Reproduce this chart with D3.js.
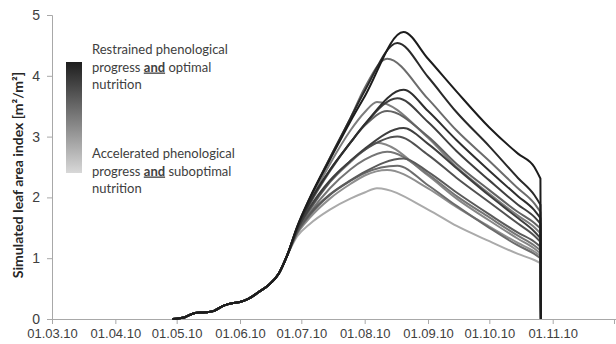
<!DOCTYPE html>
<html>
<head>
<meta charset="utf-8">
<script src="https://cdn.jsdelivr.net/npm/d3@7"></script>
<style>
  body { margin: 0; background: #fff; }
  svg { font-family: Lato, "Open Sans", sans-serif; }
  .tick text { fill: #404040; }
</style>
</head>
<body>
<svg id="chart" width="616" height="344"></svg>
<script>
// shared early-season leaf area (all runs overlap here)
const baseDates = ["2010-04-29","2010-05-05","2010-05-10","2010-05-15","2010-05-19","2010-05-24",
  "2010-05-28","2010-06-01","2010-06-05","2010-06-10","2010-06-15","2010-06-20","2010-06-24"];
const baseLai = [0, 0.03, 0.1, 0.11, 0.13, 0.22, 0.26, 0.28, 0.33, 0.44, 0.56, 0.75, 1.04];

const riseDates = ["2010-06-29","2010-07-05","2010-07-15","2010-07-25","2010-08-01"];
const fallDates = ["2010-09-01","2010-09-15","2010-10-01","2010-10-15","2010-10-23","2010-10-26"];
const harvestDate = "2010-10-26";

// one entry per simulation run
const peakDates = ["2010-08-20","2010-08-17","2010-08-12","2010-08-20","2010-08-17","2010-08-07","2010-08-12",
  "2010-08-20","2010-08-17","2010-08-07","2010-08-12","2010-08-20","2010-08-17","2010-08-12","2010-08-07"];
const peakLai = [4.72, 4.54, 4.28, 3.77, 3.63, 3.57, 3.42, 3.14, 3.0, 2.9, 2.75, 2.64, 2.52, 2.45, 2.15];
const riseLai = [
  [1.52, 1.98, 2.62, 3.25, 3.66],
  [1.52, 1.98, 2.65, 3.3, 3.75],
  [1.5, 1.96, 2.65, 3.3, 3.8],
  [1.5, 1.92, 2.45, 2.9, 3.2],
  [1.49, 1.9, 2.45, 2.9, 3.2],
  [1.5, 1.92, 2.55, 3.1, 3.4],
  [1.48, 1.88, 2.43, 2.9, 3.18],
  [1.47, 1.83, 2.28, 2.6, 2.8],
  [1.46, 1.8, 2.26, 2.6, 2.78],
  [1.45, 1.78, 2.25, 2.58, 2.78],
  [1.44, 1.74, 2.15, 2.46, 2.62],
  [1.43, 1.72, 2.05, 2.28, 2.42],
  [1.42, 1.7, 2.04, 2.27, 2.4],
  [1.4, 1.66, 1.98, 2.22, 2.36],
  [1.36, 1.56, 1.8, 1.98, 2.08]
];
const fallLai = [
  [4.28, 3.74, 3.15, 2.72, 2.5, 2.31],
  [3.98, 3.4, 2.84, 2.32, 2.04, 1.88],
  [3.62, 3.1, 2.6, 2.15, 1.9, 1.76],
  [3.42, 2.94, 2.44, 2.02, 1.79, 1.66],
  [3.24, 2.76, 2.28, 1.88, 1.68, 1.57],
  [2.98, 2.5, 2.06, 1.7, 1.51, 1.41],
  [3.0, 2.55, 2.12, 1.76, 1.58, 1.49],
  [2.88, 2.48, 2.03, 1.66, 1.44, 1.33],
  [2.7, 2.32, 1.92, 1.57, 1.37, 1.27],
  [2.36, 1.98, 1.62, 1.32, 1.16, 1.08],
  [2.38, 2.02, 1.67, 1.37, 1.21, 1.13],
  [2.42, 2.08, 1.72, 1.42, 1.27, 1.19],
  [2.2, 1.86, 1.5, 1.21, 1.07, 1.0],
  [2.15, 1.84, 1.52, 1.25, 1.11, 1.04],
  [1.8, 1.53, 1.28, 1.07, 0.97, 0.92]
];
// 0 = restrained/optimal (dark), 1 = accelerated/suboptimal (light)
const greyShades = [0, 0.08, 0.45, 0.1, 0.2, 0.55, 0.4, 0.2, 0.3, 0.6, 0.5, 0.35, 0.45, 0.65, 0.8];

const tickMonths = ["2010-03-01","2010-04-01","2010-05-01","2010-06-01","2010-07-01","2010-08-01",
  "2010-09-01","2010-10-01","2010-11-01","2010-12-01"];
const yTicks = [0, 1, 2, 3, 4, 5];

const parse = d3.timeParse("%Y-%m-%d");
const svg = d3.select("#chart");
const margin = {left: 52, right: 614, top: 15, bottom: 319};

const x = d3.scaleTime().domain([parse("2010-03-01"), parse("2010-12-01")]).range([margin.left, margin.right]);
const y = d3.scaleLinear().domain([0, 5]).range([margin.bottom, margin.top]);
const grey = d3.interpolateRgb("#1c1c1c", "#cdcdcd");

const runs = peakLai.map((p, i) => {
  const pts = baseDates.map((d, j) => [parse(d), baseLai[j]]);
  riseDates.forEach((d, j) => pts.push([parse(d), riseLai[i][j]]));
  pts.push([parse(peakDates[i]), p]);
  fallDates.forEach((d, j) => pts.push([parse(d), fallLai[i][j]]));
  pts.sort((a, b) => a[0] - b[0]);
  return {pts: pts, shade: greyShades[i]};
}).sort((a, b) => b.shade - a.shade);

// axes
const xAxis = svg.append("g").attr("transform", `translate(0,${margin.bottom})`)
  .call(d3.axisBottom(x).tickValues(tickMonths.map(parse)).tickSize(5).tickPadding(5)
    .tickFormat(d => d.getMonth() === 11 ? "" : d3.timeFormat("%d.%m.%y")(d)));
xAxis.select(".domain").attr("d", `M${margin.left},0.5H616`);
const yAxis = svg.append("g").attr("transform", `translate(${margin.left},0)`)
  .call(d3.axisLeft(y).tickValues(yTicks).tickSize(5).tickPadding(7).tickFormat(d3.format("d")));
svg.selectAll(".domain, .tick line").attr("stroke", "#a8a8a8");
xAxis.selectAll("text").attr("font-size", 13);
yAxis.selectAll("text").attr("font-size", 14);

svg.append("text")
  .attr("transform", `translate(23,${(margin.top + margin.bottom) / 2 + 8}) rotate(-90)`)
  .attr("text-anchor", "middle").attr("font-size", 14).attr("font-weight", "bold").attr("fill", "#262626")
  .text("Simulated leaf area index [m²/m²]");

// curves: smooth season, then a straight drop to zero at harvest
const line = d3.line().x(d => x(d[0])).y(d => y(d[1])).curve(d3.curveMonotoneX);
svg.append("g").selectAll("path").data(runs).join("path")
  .attr("d", d => line(d.pts) + `L${x(parse(harvestDate)) + 0.5},${y(0)}`)
  .attr("fill", "none")
  .attr("stroke", d => grey(d.shade))
  .attr("stroke-width", 2)
  .attr("stroke-linejoin", "round");

// legend
const grad = svg.append("defs").append("linearGradient").attr("id", "lg")
  .attr("x1", 0).attr("y1", 0).attr("x2", 0).attr("y2", 1);
grad.append("stop").attr("offset", "0%").attr("stop-color", "#1e1e1e");
grad.append("stop").attr("offset", "100%").attr("stop-color", "#d8d8d8");
svg.append("rect").attr("x", 66).attr("y", 62).attr("width", 16).attr("height", 111).attr("fill", "url(#lg)");

const legendLines = [
  [{t: "Restrained phenological"}],
  [{t: "progress "}, {t: "and", b: true}, {t: " optimal"}],
  [{t: "nutrition"}],
  [{t: "Accelerated phenological"}],
  [{t: "progress "}, {t: "and", b: true}, {t: " suboptimal"}],
  [{t: "nutrition"}]
];
const legendY = [54, 71.5, 89, 158, 175.5, 193];
const lg = svg.append("g").attr("font-size", 13).attr("fill", "#404040");
legendLines.forEach((parts, i) => {
  const t = lg.append("text").attr("x", 92).attr("y", legendY[i]);
  parts.forEach(p => t.append("tspan").text(p.t)
    .attr("font-weight", p.b ? "bold" : null)
    .attr("text-decoration", p.b ? "underline" : null));
});
</script>
</body>
</html>
